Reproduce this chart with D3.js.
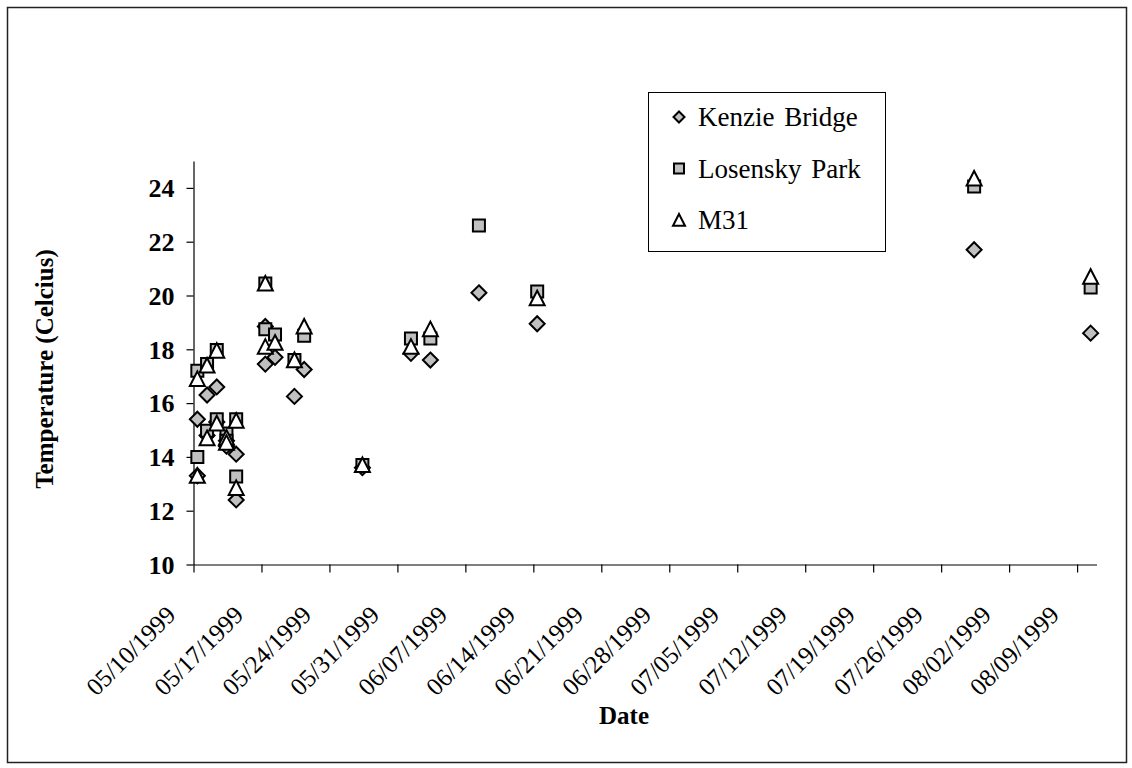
<!DOCTYPE html>
<html>
<head>
<meta charset="utf-8">
<script src="https://cdn.jsdelivr.net/npm/d3@7"></script>
<style>
  html, body { margin: 0; padding: 0; background: #fff; }
  svg { display: block; }
  text { font-family: "Liberation Serif", "Times New Roman", serif; fill: #000; }
</style>
</head>
<body>
<svg id="chart" width="1132" height="768"></svg>
<script>
// ---- data ----
const sampleDates = [
  "05/10/1999", "05/10/1999",
  "05/11/1999", "05/11/1999",
  "05/12/1999", "05/12/1999",
  "05/13/1999", "05/13/1999",
  "05/14/1999", "05/14/1999",
  "05/17/1999", "05/17/1999",
  "05/18/1999",
  "05/20/1999",
  "05/21/1999",
  "05/27/1999",
  "06/01/1999",
  "06/03/1999",
  "06/08/1999",
  "06/14/1999",
  "07/29/1999",
  "08/10/1999"
];
const sampleTime = "09:30";

const kenzieBridge = [15.4, 13.3, 16.3, 14.8, 16.6, 15.3, 14.6, 14.4, 14.1, 12.4,
  18.85, 17.45, 17.7, 16.25, 17.25, 13.6, 17.85, 17.6, 20.1, 18.95, 21.7, 18.6];
const losenskyPark = [17.2, 14.0, 17.45, 14.97, 17.97, 15.4, 14.87, 14.6, 15.4, 13.27,
  20.45, 18.75, 18.55, 17.6, 18.5, 13.7, 18.4, 18.4, 22.6, 20.15, 24.05, 20.3];
const m31 = [16.9, 13.3, 17.4, 14.7, 17.95, 15.25, 14.72, 14.53, 15.35, 12.85,
  20.45, 18.1, 18.25, 17.6, 18.85, 13.7, 18.1, 18.75, null, 19.9, 24.35, 20.7];

const seriesNames = ["Kenzie Bridge", "Losensky Park", "M31"];

const xTickLabels = ["05/10/1999", "05/17/1999", "05/24/1999", "05/31/1999", "06/07/1999",
  "06/14/1999", "06/21/1999", "06/28/1999", "07/05/1999", "07/12/1999", "07/19/1999",
  "07/26/1999", "08/02/1999", "08/09/1999"];
const xDomain = ["05/10/1999", "08/11/1999"];
const yTicks = [10, 12, 14, 16, 18, 20, 22, 24];
const yDomain = [10, 25];

// ---- drawing ----
const parseDay = d3.utcParse("%m/%d/%Y");
const parseDT = d3.utcParse("%m/%d/%Y %H:%M");
const svg = d3.select("#chart");

// outer border
svg.append("rect").attr("x", 7.5).attr("y", 7.5).attr("width", 1119).attr("height", 755)
  .attr("fill", "#fff").attr("stroke", "#222").attr("stroke-width", 1.5);

const plot = { left: 193.5, right: 1096.5, top: 161, bottom: 564.5 };

const x = d3.scaleUtc().domain(xDomain.map(parseDay)).range([plot.left, plot.right]);
const y = d3.scaleLinear().domain(yDomain).range([plot.bottom, plot.top]);

// y axis
const yAxis = svg.append("g").attr("transform", `translate(${plot.left},0)`)
  .call(d3.axisLeft(y).tickValues(yTicks).tickSize(7).tickSizeOuter(0).tickPadding(12)
    .tickFormat(d3.format("d")));
yAxis.select(".domain").attr("stroke", "#000").attr("stroke-width", 1.2);
yAxis.selectAll(".tick line").attr("stroke", "#000").attr("stroke-width", 1.2);
yAxis.selectAll(".tick text").attr("font-size", 26).attr("font-weight", "bold")
  .attr("font-family", "Liberation Serif").attr("dy", "0.34em").attr("fill", "#000");

// x axis
const xAxis = svg.append("g").attr("transform", `translate(0,${plot.bottom})`)
  .call(d3.axisBottom(x).tickValues(xTickLabels.map(parseDay)).tickSize(8).tickSizeOuter(0)
    .tickFormat(d3.utcFormat("%m/%d/%Y")));
xAxis.select(".domain").attr("stroke", "#000").attr("stroke-width", 1.2);
xAxis.selectAll(".tick line").attr("stroke", "#000").attr("stroke-width", 1.2);
xAxis.selectAll(".tick text")
  .attr("font-size", 25).attr("font-family", "Liberation Serif").attr("fill", "#000")
  .attr("text-anchor", "end").attr("y", 0).attr("dy", 0)
  .attr("transform", "translate(-17,52) rotate(-45)");

// axis titles
svg.append("text").attr("x", 624).attr("y", 724).attr("text-anchor", "middle")
  .attr("font-size", 25).attr("font-weight", "bold").text("Date");
svg.append("text").attr("transform", "translate(53,369) rotate(-90)").attr("text-anchor", "middle")
  .attr("font-size", 25).attr("font-weight", "bold").text("Temperature (Celcius)");

// markers
const diamond = s => `M0,${-s}L${s},0L0,${s}L${-s},0Z`;
const square = s => `M${-s},${-s}H${s}V${s}H${-s}Z`;
const triangle = s => `M0,${-s}L${s},${s * 0.95}L${-s},${s * 0.95}Z`;

const series = [
  { name: seriesNames[0], values: kenzieBridge, shape: diamond, size: 7.5, legSize: 5.5, fill: "#c0c0c0" },
  { name: seriesNames[1], values: losenskyPark, shape: square, size: 6, legSize: 5, fill: "#c0c0c0" },
  { name: seriesNames[2], values: m31, shape: triangle, size: 7.5, legSize: 6, fill: "#ffffff" }
];

const points = s => sampleDates.map((d, i) => ({ date: parseDT(d + " " + sampleTime), v: s.values[i] }))
  .filter(p => p.v != null);

series.forEach(s => {
  svg.append("g").selectAll("path").data(points(s)).join("path")
    .attr("transform", p => `translate(${x(p.date)},${y(p.v)})`)
    .attr("d", s.shape(s.size))
    .attr("fill", s.fill).attr("stroke", "#000").attr("stroke-width", 2)
    .attr("stroke-linejoin", "miter");
});

// legend
const legend = svg.append("g");
legend.append("rect").attr("x", 648.5).attr("y", 92.5).attr("width", 237).attr("height", 159)
  .attr("fill", "#fff").attr("stroke", "#000").attr("stroke-width", 1);
series.forEach((s, i) => {
  const cy = 117 + i * 51.5;
  legend.append("path").attr("transform", `translate(679,${cy})`).attr("d", s.shape(s.legSize))
    .attr("fill", s.fill).attr("stroke", "#000").attr("stroke-width", 2);
  legend.append("text").attr("x", 698).attr("y", cy + 9).attr("font-size", 27)
    .attr("word-spacing", "3px").text(s.name);
});
</script>
</body>
</html>
